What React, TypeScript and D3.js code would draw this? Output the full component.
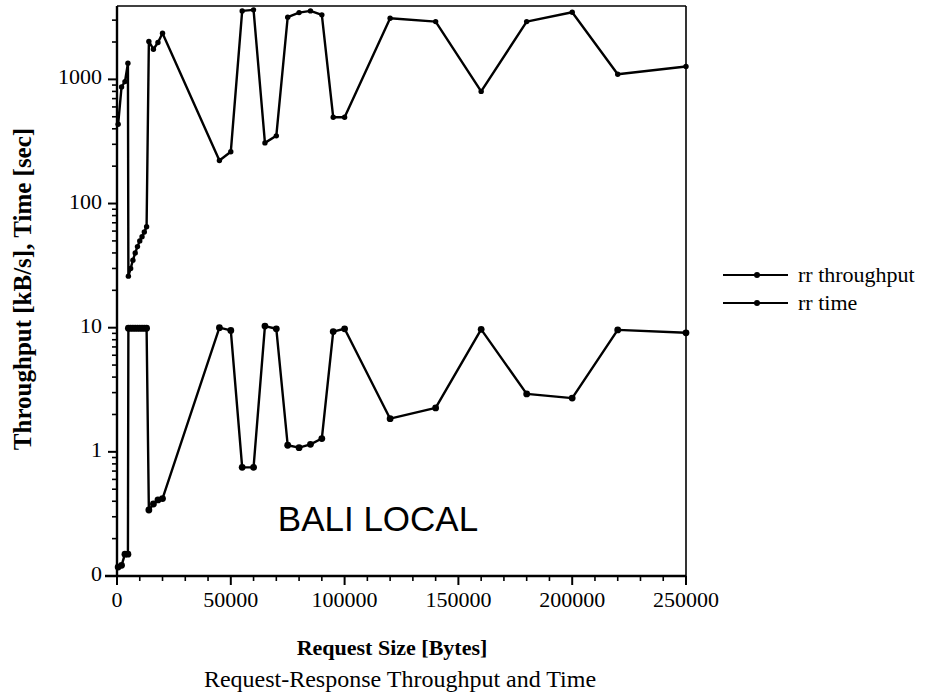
import React from "react";
import * as d3 from "d3";

// Request sizes in bytes, shared by both series
const sizes = [
  500, 2000, 3500, 4800, 5000, 6000, 7000, 8000, 9000, 10000, 11000, 12000, 13000,
  14000, 16000, 18000, 20000, 45000, 50000, 55000, 60000, 65000, 70000, 75000,
  80000, 85000, 90000, 95000, 100000, 120000, 140000, 160000, 180000, 200000,
  220000, 250000,
];

// rr throughput [kB/s]
const throughput = [
  435, 870, 960, 1350, 26, 30, 35, 40, 45, 50, 54, 59, 65,
  2020, 1750, 1980, 2350, 222, 261, 3560, 3630, 308, 351, 3170,
  3450, 3560, 3310, 495, 495, 3110, 2920, 800, 2920, 3470,
  1100, 1270,
];

// rr time [sec]
const rrTime = [
  0.118, 0.122, 0.15, 0.15, 9.9, 9.9, 9.9, 9.9, 9.9, 9.9, 9.9, 9.9, 9.9,
  0.34, 0.38, 0.41, 0.42, 10.0, 9.5, 0.75, 0.75, 10.3, 9.8, 1.13,
  1.08, 1.15, 1.28, 9.3, 9.8, 1.85, 2.26, 9.7, 2.93, 2.71,
  9.6, 9.1,
];

const xTicks = [0, 50000, 100000, 150000, 200000, 250000];
const yTicks = [0.1, 1, 10, 100, 1000];
const seriesNames = ["rr throughput", "rr time"];

const W = 927;
const H = 694;
const L = 117;
const R = 686;
const T = 6;
const B = 576;

const serif = "'Liberation Serif', 'Times New Roman', serif";
const sans = "'Liberation Sans', Arial, sans-serif";

export default function App() {
  const x = d3.scaleLinear().domain([0, 250000]).range([L, R]);
  const y = d3.scaleLog().domain([0.1, 3900]).range([B, T]);

  // integer formatting, so the lowest decade prints as "0"
  const fmt = d3.format(".0f");

  const minorY: number[] = [];
  for (let e = -1; e <= 3; e++) {
    for (let m = 2; m <= 9; m++) {
      const v = m * Math.pow(10, e);
      if (v < 3900) minorY.push(v);
    }
  }
  const minorX = d3.range(0, 250001, 10000).filter((v) => v % 50000 !== 0);

  const pts = (vals: number[]) => sizes.map((s, i) => [s, vals[i]] as [number, number]);
  const line = d3
    .line<[number, number]>()
    .x((d) => x(d[0]))
    .y((d) => y(d[1]));

  const series = [
    { name: seriesNames[0], data: pts(throughput), r: 2.7 },
    { name: seriesNames[1], data: pts(rrTime), r: 3.4 },
  ];

  return (
    <svg
      width={W}
      height={H}
      style={{ position: "absolute", left: 0, top: 0, display: "block", background: "#fff" }}
    >
      <rect width={W} height={H} fill="#fff" />

      {/* frame */}
      <line x1={L} x2={R} y1={T} y2={T} stroke="#000" strokeWidth={1.6} />
      <line x1={R} x2={R} y1={T} y2={B} stroke="#000" strokeWidth={1.6} />
      <line x1={L} x2={L} y1={T} y2={B} stroke="#000" strokeWidth={2.4} />
      <line x1={L - 12} x2={R} y1={B} y2={B} stroke="#000" strokeWidth={2.4} />

      {/* y ticks */}
      {yTicks.map((v) => (
        <g key={"yt" + v}>
          <line x1={L - 9} x2={L} y1={y(v)} y2={y(v)} stroke="#000" strokeWidth={2} />
          <text
            x={L - 15}
            y={y(v)}
            textAnchor="end"
            dominantBaseline="middle"
            fontFamily={serif}
            fontSize={22}
          >
            {fmt(v)}
          </text>
        </g>
      ))}
      {minorY.map((v) => (
        <line key={"ym" + v} x1={L - 5} x2={L} y1={y(v)} y2={y(v)} stroke="#000" strokeWidth={1.6} />
      ))}

      {/* x ticks */}
      {xTicks.map((v) => (
        <g key={"xt" + v}>
          <line x1={x(v)} x2={x(v)} y1={B} y2={B + 9} stroke="#000" strokeWidth={2} />
          <text x={x(v)} y={B + 31} textAnchor="middle" fontFamily={serif} fontSize={22}>
            {v}
          </text>
        </g>
      ))}
      {minorX.map((v) => (
        <line key={"xm" + v} x1={x(v)} x2={x(v)} y1={B} y2={B + 5} stroke="#000" strokeWidth={1.6} />
      ))}

      {/* series */}
      {series.map((s) => (
        <g key={s.name}>
          <path d={line(s.data) || ""} fill="none" stroke="#000" strokeWidth={2.4} strokeLinejoin="round" />
          {s.data.map((d, i) => (
            <circle key={i} cx={x(d[0])} cy={y(d[1])} r={s.r} fill="#000" />
          ))}
        </g>
      ))}

      {/* legend */}
      {series.map((s, i) => {
        const ly = 275 + i * 28;
        return (
          <g key={"lg" + s.name}>
            <line x1={723} x2={788} y1={ly} y2={ly} stroke="#000" strokeWidth={2} />
            <circle cx={757} cy={ly} r={3} fill="#000" />
            <text x={798} y={ly + 7} fontFamily={serif} fontSize={22}>
              {s.name}
            </text>
          </g>
        );
      })}

      {/* annotation */}
      <text x={378} y={531} textAnchor="middle" fontFamily={sans} fontSize={35}>
        BALI LOCAL
      </text>

      {/* axis titles */}
      <text
        x={392}
        y={655}
        textAnchor="middle"
        fontFamily={serif}
        fontWeight="bold"
        fontSize={22}
      >
        Request Size [Bytes]
      </text>
      <text
        transform={`translate(31, 289) rotate(-90)`}
        textAnchor="middle"
        fontFamily={serif}
        fontWeight="bold"
        fontSize={25}
      >
        Throughput [kB/s], Time [sec]
      </text>

      {/* caption */}
      <text x={400} y={687} textAnchor="middle" fontFamily={serif} fontSize={24}>
        Request-Response Throughput and Time
      </text>
    </svg>
  );
}
